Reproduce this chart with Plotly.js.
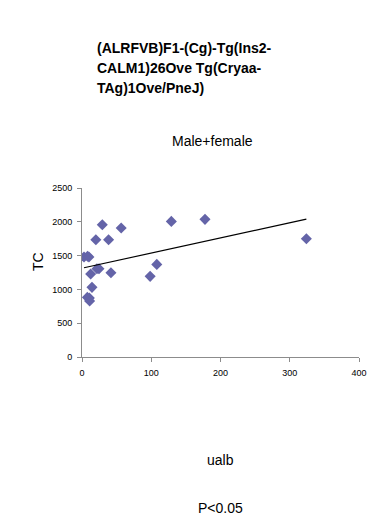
<!DOCTYPE html>
<html>
<head>
<meta charset="utf-8">
<script src="https://cdn.plot.ly/plotly-3.0.1.min.js"></script>
<style>
  html, body { margin: 0; padding: 0; background: #ffffff; }
  #chart { width: 367px; height: 517px; }
</style>
</head>
<body>
<div id="chart"></div>
<script>
// ualb vs TC, male + female
const ualb = [2.9, 8, 10, 12.5, 14.4, 7.7, 10.6, 11, 20, 21.6, 24.5, 29.3, 38.4, 41.8, 56.6, 98.4, 108, 129, 177.6, 324];
const tc = [1479, 1490, 1480, 1228, 1030, 882, 873, 828, 1735, 1306, 1306, 1957, 1735, 1247, 1908, 1193, 1370, 2006, 2036, 1750];

const xTicks = [0, 100, 200, 300, 400];
const yTicks = [0, 500, 1000, 1500, 2000, 2500];
const titleLines = ['(ALRFVB)F1-(Cg)-Tg(Ins2-', 'CALM1)26Ove Tg(Cryaa-', 'TAg)1Ove/PneJ)'];

// least-squares linear trend
function linearFit(xs, ys) {
  const n = xs.length;
  const mx = xs.reduce((a, b) => a + b, 0) / n;
  const my = ys.reduce((a, b) => a + b, 0) / n;
  let sxy = 0, sxx = 0;
  for (let i = 0; i < n; i++) {
    sxy += (xs[i] - mx) * (ys[i] - my);
    sxx += (xs[i] - mx) * (xs[i] - mx);
  }
  const slope = sxy / sxx;
  return { slope: slope, intercept: my - slope * mx };
}
const fit = linearFit(ualb, tc);
const xMin = Math.min.apply(null, ualb);
const xMax = Math.max.apply(null, ualb);
const trendX = [xMin, xMax];
const trendY = trendX.map(v => fit.intercept + fit.slope * v);

const tickFont = { family: 'Liberation Sans, Arial, sans-serif', size: 9, color: '#000000' };

// plot area: left 82px, top 188px, 277px wide, 169px tall
const px = x => (x - 82) / 277;
const py = y => (357 - y) / 169;

const data = [
  {
    x: ualb, y: tc, type: 'scatter', mode: 'markers',
    marker: { symbol: 'diamond', size: 8.5, color: '#6464a8' },
    hoverinfo: 'x+y'
  },
  {
    x: trendX, y: trendY, type: 'scatter', mode: 'lines',
    line: { color: '#000000', width: 1.2 },
    hoverinfo: 'skip'
  }
];

const annotations = titleLines.map((t, i) => ({
  text: '<b>' + t + '</b>', xref: 'paper', yref: 'paper',
  x: px(95), y: py(48 + 20 * i), xanchor: 'left', yanchor: 'middle', align: 'left',
  showarrow: false, font: { size: 14 }
}));
annotations.push(
  {
    text: 'Male+female', xref: 'paper', yref: 'paper',
    x: px(212), y: py(141), xanchor: 'center', yanchor: 'middle',
    showarrow: false, font: { size: 14 }
  },
  {
    text: 'TC', xref: 'paper', yref: 'paper', textangle: -90,
    x: px(38), y: py(262), xanchor: 'center', yanchor: 'middle',
    showarrow: false, font: { size: 14 }
  },
  {
    text: 'ualb', xref: 'paper', yref: 'paper',
    x: px(220), y: py(460), xanchor: 'center', yanchor: 'middle',
    showarrow: false, font: { size: 14 }
  },
  {
    text: 'P&lt;0.05', xref: 'paper', yref: 'paper',
    x: px(220), y: py(508), xanchor: 'center', yanchor: 'middle',
    showarrow: false, font: { size: 14 }
  }
);

const layout = {
  width: 367, height: 517,
  margin: { l: 82, r: 8, t: 188, b: 160 },
  paper_bgcolor: '#ffffff', plot_bgcolor: '#ffffff',
  showlegend: false,
  font: { family: 'Liberation Sans, Arial, sans-serif', color: '#000000' },
  xaxis: {
    range: [0, 400], tickvals: xTicks, ticktext: xTicks.map(String),
    showgrid: false, zeroline: false, showline: true, linecolor: '#8c8c8c', linewidth: 1,
    ticks: 'outside', ticklen: 4, tickcolor: '#8c8c8c', tickfont: tickFont,
    ticklabelstandoff: 3
  },
  yaxis: {
    range: [0, 2500], tickvals: yTicks, ticktext: yTicks.map(String),
    showgrid: false, zeroline: false, showline: true, linecolor: '#8c8c8c', linewidth: 1,
    ticks: 'outside', ticklen: 4, tickcolor: '#8c8c8c', tickfont: tickFont,
    ticklabelstandoff: 3
  },
  annotations: annotations
};

Plotly.newPlot('chart', data, layout, { displayModeBar: false, staticPlot: true });
</script>
</body>
</html>
